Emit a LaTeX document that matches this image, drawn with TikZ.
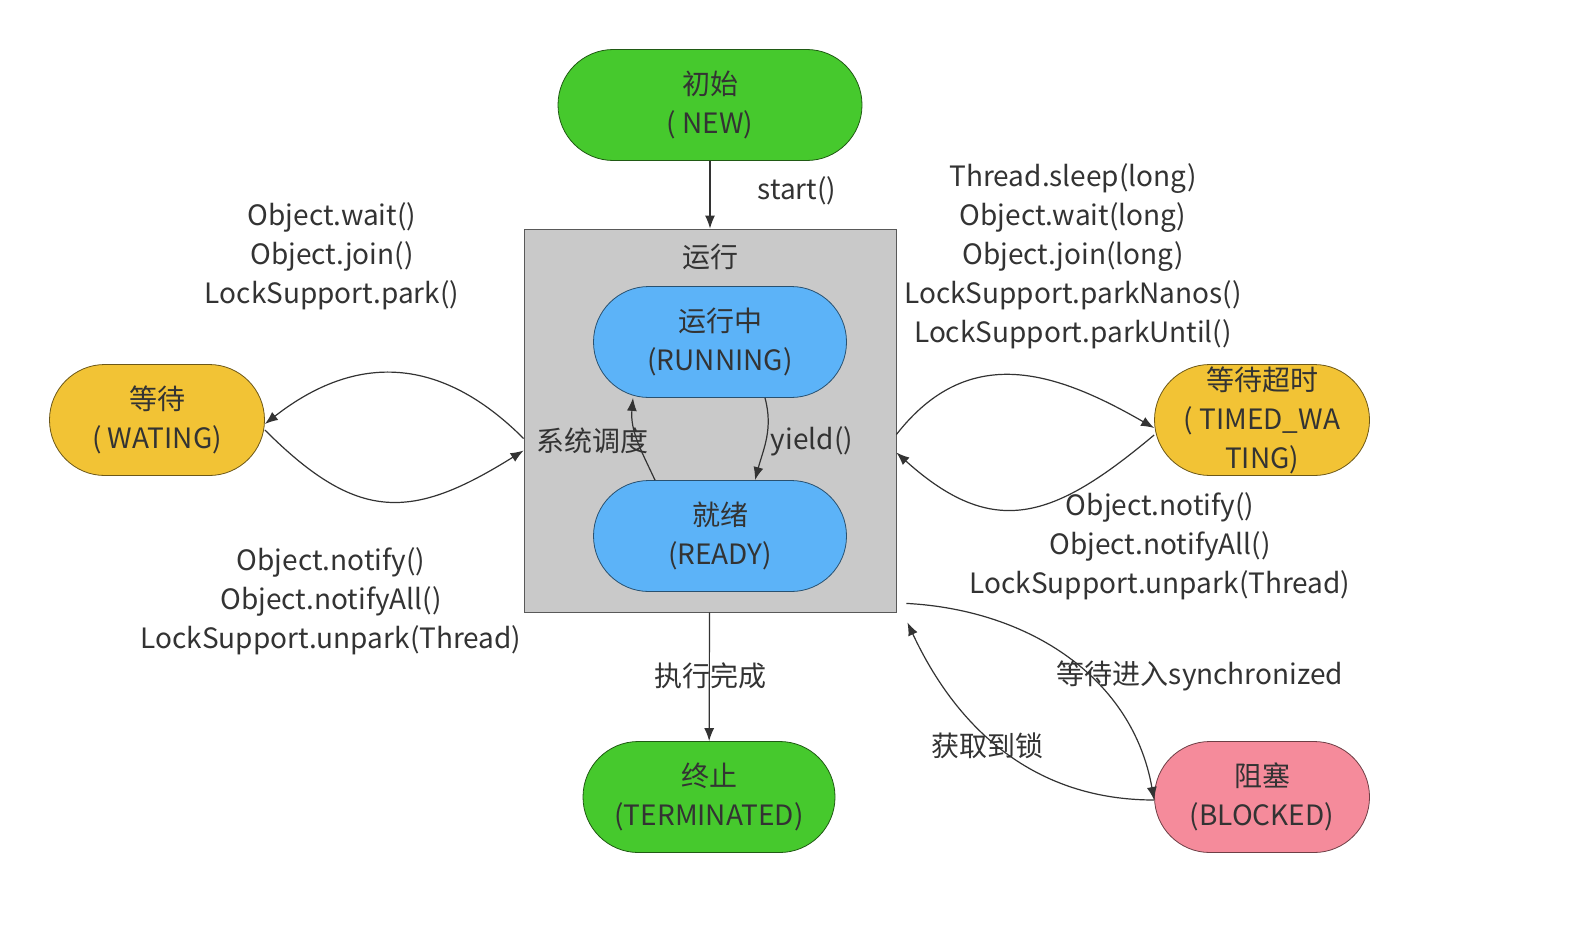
\documentclass[tikz,border=0pt]{standalone}
\usepackage{fontspec}
\setmainfont{Noto Sans CJK SC}
\usetikzlibrary{arrows.meta}
\definecolor{stgreen}{HTML}{46C92D}
\definecolor{stblue}{HTML}{5CB3F8}
\definecolor{styellow}{HTML}{F2C335}
\definecolor{stpink}{HTML}{F58B9B}
\definecolor{boxgray}{HTML}{C9C9C9}
\definecolor{txt}{HTML}{333333}
\begin{document}
\begin{tikzpicture}[x=0.5pt,y=-0.5pt,>={Latex[length=6.5pt,width=5pt]},
    every node/.style={font=\fontsize{14}{19.5}\selectfont,text=txt,align=center},
    stnode/.style={rectangle,rounded corners=27.7pt,draw=#1!45!black,fill=#1,minimum height=55.5pt,inner sep=0pt,text=black!80},
    flow/.style={->,draw=txt,line width=0.6pt}]
  \useasboundingbox[fill=white] (0,0) rectangle (1582,942);
  % running box
  \node[draw=black!65,fill=boxgray,minimum width=186pt,minimum height=191.5pt] (run) at (710,420.5) {};
  \node at (710,257) {运行};
  % states
  \node[stnode=stgreen,minimum width=152pt] (new) at (710,105) {初始\\( NEW)};
  \node[stnode=stblue,minimum width=126.5pt] (running) at (720,342) {运行中\\(RUNNING)};
  \node[stnode=stblue,minimum width=126.5pt] (ready) at (720,536) {就绪\\(READY)};
  \node[stnode=styellow,minimum width=107.5pt] (wait) at (157,420) {等待\\( WATING)};
  \node[stnode=styellow,minimum width=107.5pt] (timed) at (1262,420) {等待超时\\( TIMED\_WA\\TING)};
  \node[stnode=stgreen,minimum width=126pt] (term) at (709,797) {终止\\(TERMINATED)};
  \node[stnode=stpink,minimum width=107.5pt] (blocked) at (1262,797) {阻塞\\(BLOCKED)};
  % transitions
  \draw[flow] (new) -- (run);
  \node at (797,191) {start()};
  \draw[flow] ([xshift=22.5pt]running.south) to[out=-75,in=75] ([xshift=17.5pt]ready.north);
  \node at (812,441) {yield()};
  \draw[flow] ([xshift=-32.5pt]ready.north) to[out=115,in=-95] ([xshift=-43.5pt]running.south);
  \node at (592,441) {系统调度};
  \draw[flow] ([yshift=-9pt]run.west) to[out=135,in=38,looseness=1.15] ([yshift=-2pt]wait.east);
  \draw[flow] ([yshift=-5pt]wait.east) to[out=-45,in=-148,looseness=1.3] ([yshift=-15pt]run.west);
  \node at (332,256) {Object.wait()\\Object.join()\\LockSupport.park()};
  \node at (331,601) {Object.notify()\\Object.notifyAll()\\LockSupport.unpark(Thread)};
  \draw[flow] ([yshift=-7pt]run.east) to[out=52,in=150,looseness=1.15] ([yshift=-4pt]timed.west);
  \draw[flow] ([yshift=-7.5pt]timed.west) to[out=-140,in=-42,looseness=1.3] ([yshift=-16pt]run.east);
  \node at (1073,256) {Thread.sleep(long)\\Object.wait(long)\\Object.join(long)\\LockSupport.parkNanos()\\LockSupport.parkUntil()};
  \node at (1160,546) {Object.notify()\\Object.notifyAll()\\LockSupport.unpark(Thread)};
  \draw[flow] (run) -- (term);
  \node at (710,676) {执行完成};
  \draw[flow] ([xshift=5pt,yshift=4.5pt]run.south east) to[out=-3,in=100] ([yshift=-1.5pt]blocked.west);
  \node at (1200,676) {等待进入synchronized};
  \draw[flow] ([yshift=-1.5pt]blocked.west) to[out=180,in=-65] ([xshift=5.5pt,yshift=-5pt]run.south east);
  \node at (987,746) {获取到锁};
\end{tikzpicture}
\end{document}
